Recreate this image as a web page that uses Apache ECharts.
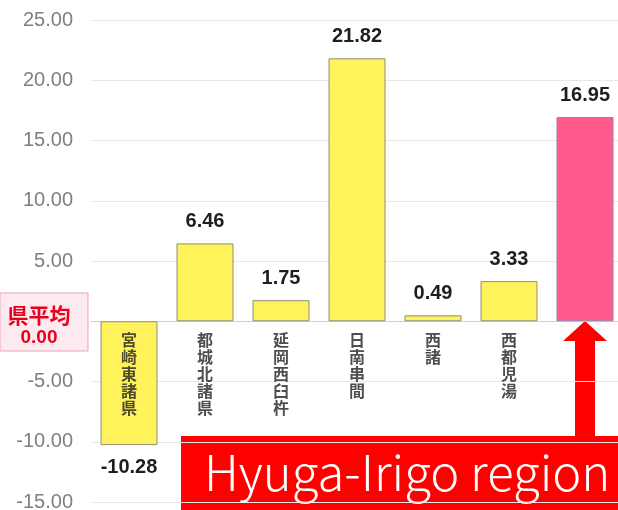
<!DOCTYPE html>
<html>
<head>
<meta charset="utf-8">
<script src="https://cdn.jsdelivr.net/npm/echarts@6/dist/echarts.min.js"></script>
<style>
  html, body { margin: 0; padding: 0; background: #fff; }
  #main { width: 618px; height: 510px; }
</style>
</head>
<body>
<div id="main"></div>
<script>
// 地域別の差（県平均との比較）
const categories = ['宮崎東諸県', '都城北諸県', '延岡西臼杵', '日南串間', '西諸', '西都児湯', '日向入郷'];
const values = [-10.28, 6.46, 1.75, 21.82, 0.49, 3.33, 16.95];
const highlightIndex = 6;
const yTicks = [-15, -10, -5, 0, 5, 10, 15, 20, 25];

const chart = echarts.init(document.getElementById('main'));

const option = {
  animation: false,
  grid: {
    left: 91,
    top: 20,
    width: 532,
    height: 482,
    containLabel: false,
    outerBoundsMode: 'none'
  },
  xAxis: {
    type: 'category',
    data: categories,
    axisLine: { onZero: true, lineStyle: { color: '#d0d0d0', width: 1 } },
    axisTick: { show: false },
    axisLabel: { show: false }
  },
  yAxis: {
    type: 'value',
    min: yTicks[0],
    max: yTicks[yTicks.length - 1],
    interval: 5,
    axisLine: { show: false },
    axisTick: { show: false },
    splitLine: { lineStyle: { color: '#e8e8e8' } },
    axisLabel: {
      margin: 18,
      color: '#7f7f7f',
      fontSize: 20,
      fontFamily: 'Liberation Sans',
      formatter: function (v) {
        if (v === 0) return '';
        return v.toFixed(2);
      }
    }
  },
  series: [{
    type: 'bar',
    barCategoryGap: '25%',
    data: values.map(function (v, i) {
      const item = {
        value: v,
        itemStyle: i === highlightIndex
          ? { color: '#ff5b8d', borderColor: '#a07ca8', borderWidth: 1 }
          : { color: '#fff25a', borderColor: '#8e8e78', borderWidth: 1 }
      };
      // 負の値のラベルは下に
      if (v < 0) item.label = { position: 'bottom' };
      return item;
    }),
    label: {
      show: true,
      position: 'top',
      distance: 12,
      color: '#1e1e1e',
      fontSize: 20,
      fontWeight: 'bold',
      fontFamily: 'Liberation Sans',
      formatter: function (p) { return p.value.toFixed(2); }
    }
  }, {
    // 地域名（縦書き、0の線の下）
    type: 'scatter',
    symbolSize: 0,
    silent: true,
    data: categories.map(function () { return 0; }),
    label: {
      show: true,
      position: 'bottom',
      distance: 10,
      color: '#222',
      fontSize: 16,
      fontWeight: 'bold',
      lineHeight: 17,
      fontFamily: 'Noto Sans CJK JP',
      formatter: function (p) {
        // 最後の地域はラベルなし（矢印で表示）
        if (p.dataIndex === highlightIndex) return '';
        return p.name.split('').join('\n');
      }
    }
  }],
  graphic: [
    // 県平均ボックス
    {
      type: 'rect',
      shape: { x: 0, y: 293, width: 88, height: 58 },
      style: { fill: '#fdeaf0', stroke: '#eba3b6', lineWidth: 1 }
    },
    {
      type: 'text',
      x: 39, y: 326,
      style: {
        text: '{a|県平均}\n{b|0.00}',
        align: 'center',
        verticalAlign: 'middle',
        rich: {
          a: { fill: '#e8001c', font: 'bold 21px "Noto Sans CJK JP"', lineHeight: 23, align: 'center' },
          b: { fill: '#e8001c', font: 'bold 19px "Liberation Sans"', lineHeight: 21, align: 'center' }
        }
      }
    },
    // 矢印
    {
      type: 'polygon',
      shape: {
        points: [[585, 321], [607, 341], [595, 341], [595, 438], [575, 438], [575, 341], [563, 341]]
      },
      style: { fill: '#ff0000' }
    },
    // 注記
    {
      type: 'rect',
      shape: { x: 181, y: 436, width: 437, height: 74 },
      style: { fill: '#ff0000' }
    },
    {
      type: 'text',
      x: 204, y: 472,
      style: {
        text: 'Hyuga-Irigo region',
        fill: '#ffffff',
        font: '300 49px "Noto Sans CJK JP"',
        verticalAlign: 'middle'
      }
    }
  ]
};

chart.setOption(option);
</script>
</body>
</html>
